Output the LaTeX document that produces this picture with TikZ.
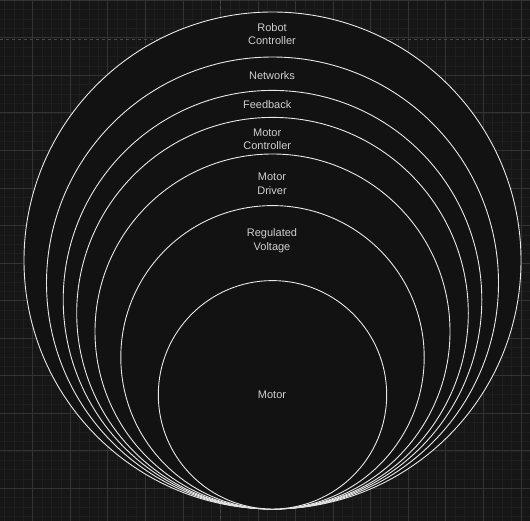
\documentclass[tikz,border=0pt]{standalone}
\usepackage{fontspec}
\setmainfont{Liberation Sans}
\definecolor{bgc}{HTML}{161616}
\definecolor{minorc}{HTML}{1E1E1E}
\definecolor{majorc}{HTML}{333333}
\definecolor{dashc}{HTML}{4A4A4A}
\definecolor{fillc}{HTML}{121212}
\definecolor{ringc}{HTML}{E8E8E8}
\definecolor{txtc}{HTML}{CFCFCF}
\begin{document}
\begin{tikzpicture}[x=1pt,y=-1pt,
  ring/.style={circle, draw=ringc, fill=fillc, line width=0.9pt, inner sep=0pt, outer sep=0pt},
  lbl/.style={text=txtc, font=\fontsize{11}{13.5}\selectfont, align=center, inner sep=0pt}]
\fill[bgc] (0,0) rectangle (530,521);
\useasboundingbox (0,0) rectangle (530,521);
% minor grid
\foreach \i in {0,...,56} {
  \draw[minorc, line width=0.6pt] ({4.5+\i*9.3875},0) -- ({4.5+\i*9.3875},521);
}
\foreach \i in {0,...,55} {
  \draw[minorc, line width=0.6pt] (0,{0.2+\i*9.3875}) -- (530,{0.2+\i*9.3875});
}
% major grid
\foreach \i in {0,...,13} {
  \draw[majorc, line width=0.7pt] ({32.7+\i*37.55},0) -- ({32.7+\i*37.55},521);
  \draw[majorc, line width=0.7pt] (0,{0.2+\i*37.55}) -- (530,{0.2+\i*37.55});
}
% page boundaries
\draw[dashc, line width=0.7pt, dash pattern=on 3pt off 3pt] (0,39) -- (530,39);
\draw[dashc, line width=0.7pt, dash pattern=on 3pt off 3pt] (220.5,0) -- (220.5,521);
% nested circles
\node[ring, minimum size=497pt] (c1) at (272.5,260.5) {};
\node[ring, minimum size=452pt] (c2) at (272.5,283) {};
\node[ring, minimum size=418.6pt] (c3) at (272.5,299.7) {};
\node[ring, minimum size=391.6pt] (c4) at (272.5,313.2) {};
\node[ring, minimum size=355pt] (c5) at (272.5,331.5) {};
\node[ring, minimum size=303.4pt] (c6) at (272.5,357.3) {};
\node[ring, minimum size=228.4pt] (c7) at (272.5,394.8) {};
% labels
\node[lbl] (t1) at (272,34.3) {Robot\\Controller};
\node[lbl] (t2) at (272,75.3) {Networks};
\node[lbl] (t3) at (267.2,104.3) {Feedback};
\node[lbl] (t4) at (267.2,139.2) {Motor\\Controller};
\node[lbl] (t5) at (272,184) {Motor\\Driver};
\node[lbl] (t6) at (272,240.8) {Regulated\\Voltage};
\node[lbl] (t7) at (272,394.3) {Motor};
\end{tikzpicture}
\end{document}
